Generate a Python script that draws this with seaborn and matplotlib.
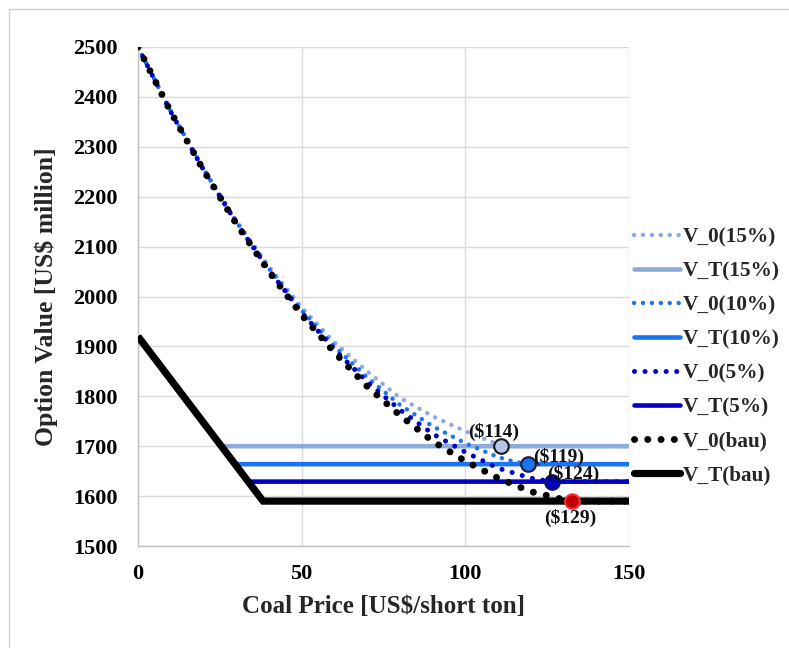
import matplotlib
matplotlib.use("Agg")
import matplotlib.pyplot as plt
import seaborn as sns
import pandas as pd
from matplotlib.lines import Line2D

# ---------------- data ----------------
x_v0 = [0, 10, 20, 30, 40, 50, 60, 70, 80, 90, 100, 110]
v0_15 = [2500, 2372, 2257, 2152, 2060, 1978, 1908, 1850, 1797, 1760, 1730, 1704]
v0_10 = [2500, 2371, 2255, 2150, 2056, 1972, 1900, 1838, 1783, 1740, 1706, 1678]
v0_5 = [2500, 2370, 2254, 2148, 2053, 1968, 1894, 1829, 1773, 1725, 1688, 1656]
v0_bau = [2500, 2370, 2253, 2146, 2050, 1963, 1888, 1820, 1762, 1710, 1670, 1636]

# tail points of each V_0 curve (after x=110) down to its switching point, then flat
x_tail_15 = [111, 150]
y_tail_15 = [1700, 1700]
x_tail_10 = [115, 119, 150]
y_tail_10 = [1669, 1664, 1664]
x_tail_5 = [120, 126.4, 150]
y_tail_5 = [1636, 1629, 1629]
x_tail_bau = [120, 130, 132.5, 150]
y_tail_bau = [1609, 1593, 1590, 1590]

# V_T: intrinsic value line, then flat
x_vt_15 = [0, 25.5, 150]
y_vt_15 = [1920, 1700, 1700]
x_vt_10 = [0, 29.6, 150]
y_vt_10 = [1920, 1664, 1664]
x_vt_5 = [0, 33.7, 150]
y_vt_5 = [1920, 1629, 1629]
x_vt_bau = [0, 38.2, 150]
y_vt_bau = [1920, 1590, 1590]

# switching points and labels
sw_x = [111, 119, 126.4, 132.5]
sw_y = [1700, 1664, 1629, 1590]
sw_labels = [r"(\$114)", r"(\$119)", r"(\$124)", r"(\$129)"]
lab_x = [108.5, 128.5, 133.0, 132.0]
lab_y = [1729, 1679, 1644, 1556]

# ---------------- style ----------------
sns.set_theme(style="white")
plt.rcParams["font.family"] = ["Liberation Serif", "DejaVu Serif"]
plt.rcParams["font.weight"] = "bold"

c15 = "#8FAADC"
c10 = "#1A73F0"
c5 = "#0000C8"
cb = "#000000"

fig = plt.figure(figsize=(7.89, 6.48), dpi=100)
ax = fig.add_axes([138 / 789, 1 - 546 / 648, (629 - 138) / 789, (546 - 47) / 648])

def vt(xs, ys, color, lw):
    sns.lineplot(x=xs, y=ys, color=color, lw=lw, ax=ax, sort=False,
                 solid_capstyle="butt", solid_joinstyle="miter", zorder=3)

def v0(xs, ys, color, lw, gap, z):
    sns.lineplot(x=xs, y=ys, color=color, lw=lw, ax=ax, sort=False,
                 linestyle=(0, (0.01, gap)), dash_capstyle="round", zorder=z)

vt(x_vt_15, y_vt_15, c15, 3.3)
vt(x_vt_10, y_vt_10, c10, 3.3)
vt(x_vt_5, y_vt_5, c5, 3.3)
vt(x_vt_bau, y_vt_bau, cb, 5.2)

v0(x_v0 + x_tail_15, v0_15 + y_tail_15, c15, 3.2, 2.0, 4)
v0(x_v0 + x_tail_10, v0_10 + y_tail_10, c10, 3.2, 2.0, 5)
v0(x_v0 + x_tail_5, v0_5 + y_tail_5, c5, 3.6, 2.1, 6)
v0(x_v0 + x_tail_bau, v0_bau + y_tail_bau, cb, 5.0, 1.9, 7)

face = ["#B4C7E7", c10, c5, "#C00000"]
edge = ["#1a1a1a", "#1a1a40", "#10105a", "#FF3030"]
for xs, ys, fc, ec in zip(sw_x, sw_y, face, edge):
    ax.scatter([xs], [ys], s=110, facecolor=fc, edgecolor=ec, linewidth=1.5, zorder=10)

for lx, ly, t in zip(lab_x, lab_y, sw_labels):
    ax.text(lx, ly, t, ha="center", va="center",
            fontsize=14, fontweight="bold", color="#111111", zorder=11)

ax.set_xlim(0, 150)
ax.set_ylim(1500, 2500)
ax.set_xticks([0, 50, 100, 150])
ax.set_yticks(list(range(1500, 2501, 100)))
ax.grid(True, color="#D9D9D9", lw=1.0)
ax.set_axisbelow(True)
for s in ["top", "right"]:
    ax.spines[s].set_visible(False)
for s in ["left", "bottom"]:
    ax.spines[s].set_color("#BFBFBF")
    ax.spines[s].set_linewidth(1.0)
ax.tick_params(axis="both", length=0, labelsize=16, colors="#000000")
ax.tick_params(axis="x", pad=13)
ax.tick_params(axis="y", pad=14.4)
for lbl in ax.get_xticklabels() + ax.get_yticklabels():
    lbl.set_fontweight("bold")
ax.set_xlabel("Coal Price [US$/short ton]", fontsize=18, fontweight="bold", labelpad=8)
ax.set_ylabel("Option Value [US$ million]", fontsize=18.5, fontweight="bold", labelpad=11)

handles = [
    Line2D([], [], color=c15, lw=3.2, linestyle=(0, (0.01, 2.0)), dash_capstyle="round"),
    Line2D([], [], color=c15, lw=3.3),
    Line2D([], [], color=c10, lw=3.2, linestyle=(0, (0.01, 2.0)), dash_capstyle="round"),
    Line2D([], [], color=c10, lw=3.3),
    Line2D([], [], color=c5, lw=3.6, linestyle=(0, (0.01, 2.1)), dash_capstyle="round"),
    Line2D([], [], color=c5, lw=3.3),
    Line2D([], [], color=cb, lw=5.0, linestyle=(0, (0.01, 1.9)), dash_capstyle="round"),
    Line2D([], [], color=cb, lw=5.2),
]
labels = ["V_0(15%)", "V_T(15%)", "V_0(10%)", "V_T(10%)",
          "V_0(5%)", "V_T(5%)", "V_0(bau)", "V_T(bau)"]
leg = fig.legend(handles, labels, loc="upper left", bbox_to_anchor=(634 / 789, 1 - 227 / 648),
                 frameon=False, fontsize=15.3, handlelength=2.15, handletextpad=0.15,
                 labelspacing=0.66, borderaxespad=0, borderpad=0)
for t in leg.get_texts():
    t.set_fontweight("bold")

# light frame around the figure (top and left edges visible)
fig.add_artist(Line2D([9 / 789, 1], [1 - 9 / 648, 1 - 9 / 648], color="#D0D0D0", lw=1.0))
fig.add_artist(Line2D([9 / 789, 9 / 789], [0, 1 - 9 / 648], color="#D0D0D0", lw=1.0))

fig.savefig("out.png", dpi=100)
